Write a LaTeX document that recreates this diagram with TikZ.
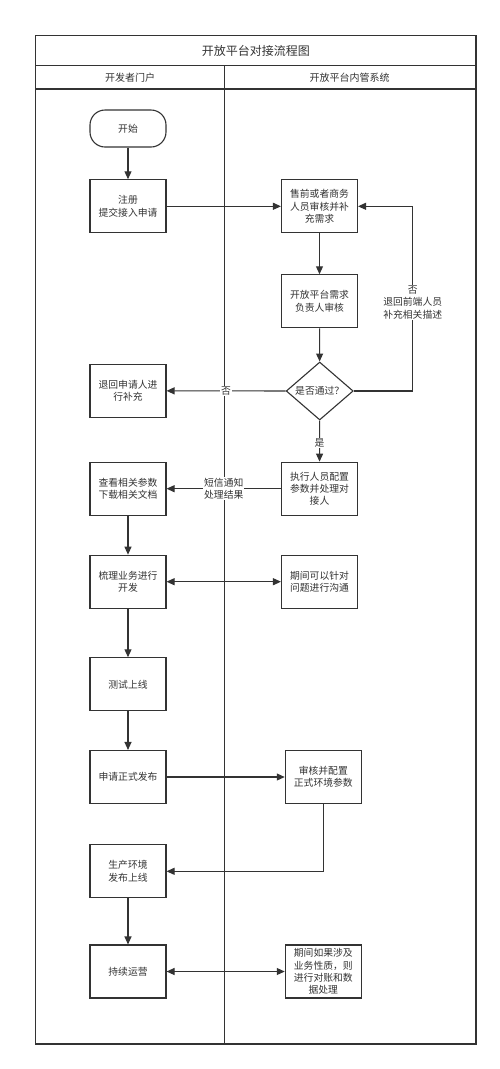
\documentclass[tikz,border=0pt]{standalone}
\usepackage{fontspec}
\newfontfamily\cjk{Noto Sans CJK SC}
\usetikzlibrary{arrows.meta}
\usetikzlibrary{shapes.geometric}
\begin{document}
\begin{tikzpicture}[
    x=1pt, y=-1pt,
    color=black!80,
    line width=1.1pt,
    >={Triangle[length=8pt,width=7pt]},
    flowBox/.style={
        rectangle, draw,
        minimum width=76pt,
        minimum height=53pt,
        inner sep=1pt,
        font=\cjk\fontsize{9.8}{12.3}\selectfont,
        align=center
    },
    flowStart/.style={
        flowBox, rounded corners=15pt,
        minimum height=37pt
    },
    flowDecision/.style={
        diamond, draw,
        minimum width=67pt,
        minimum height=52pt,
        inner sep=0pt,
        font=\cjk\fontsize{9.8}{12.3}\selectfont
    },
    flowLabel/.style={
        fill=white, inner sep=1pt,
        font=\cjk\fontsize{9.8}{12.3}\selectfont,
        align=center
    },
    laneTitle/.style={
        font=\cjk\fontsize{10}{12}\selectfont
    }
]
\path[use as bounding box, fill=white] (0,0) rectangle (500,1069);
\draw (35.7,35.7) rectangle (476,1044);
\draw (35.7,65.7) -- (476,65.7);
\draw (35.7,89) -- (476,89);
\draw (224.3,65.7) -- (224.3,1044);
\node[font=\cjk\fontsize{12}{14}\selectfont] (title) at (255.8,50.7) {开放平台对接流程图};
\node[laneTitle] (devLane) at (130,77.3) {开发者门户};
\node[laneTitle] (sysLane) at (349.5,77.3) {开放平台内管系统};

\node[flowStart] (start) at (128,128.5) {开始};
\node[flowBox] (reg) at (128,206.3) {注册\\提交接入申请};
\node[flowBox] (presale) at (319.5,206.3) {售前或者商务\\人员审核并补\\充需求};
\node[flowBox] (owner) at (319.5,301.3) {开放平台需求\\负责人审核};
\node[flowDecision] (pass) at (319.7,391) {是否通过？};
\node[flowBox] (back) at (128,390.8) {退回申请人进\\行补充};
\node[flowBox] (exec) at (319.5,488.7) {执行人员配置\\参数并处理对\\接人};
\node[flowBox] (docs) at (128,488.7) {查看相关参数\\下载相关文档};
\node[flowBox] (dev) at (128,581.7) {梳理业务进行\\开发};
\node[flowBox] (comm) at (319.5,581.7) {期间可以针对\\问题进行沟通};
\node[flowBox] (test) at (128,684.3) {测试上线};
\node[flowBox] (apply) at (128,777) {申请正式发布};
\node[flowBox] (review) at (323.3,777) {审核并配置\\正式环境参数};
\node[flowBox] (prod) at (128,871.3) {生产环境\\发布上线};
\node[flowBox] (ops) at (128,971.5) {持续运营};
\node[flowBox] (recon) at (323.3,971.5) {期间如果涉及\\业务性质，则\\进行对账和数\\据处理};
\coordinate (backCorner) at (412.7,206.3);

\draw[->] (start) -- (reg);
\draw[->] (reg) -- (presale);
\draw[->] (presale) -- (owner);
\draw[->] (owner) -- (pass);
\draw[->] (pass) -- node[flowLabel] {否} (back);
\draw[->] (pass.east) -| node[flowLabel, pos=0.74] {否\\退回前端人员\\补充相关描述} (backCorner) -- (presale.east);
\draw[->] (pass) -- node[flowLabel, pos=0.55] {是} (exec);
\draw[->] (exec) -- node[flowLabel] {短信通知\\处理结果} (docs);
\draw[->] (docs) -- (dev);
\draw[<->] (dev) -- (comm);
\draw[->] (dev) -- (test);
\draw[->] (test) -- (apply);
\draw[->] (apply) -- (review);
\draw[->] (review.south) |- (prod.east);
\draw[->] (prod) -- (ops);
\draw[<->] (ops) -- (recon);
\end{tikzpicture}
\end{document}
